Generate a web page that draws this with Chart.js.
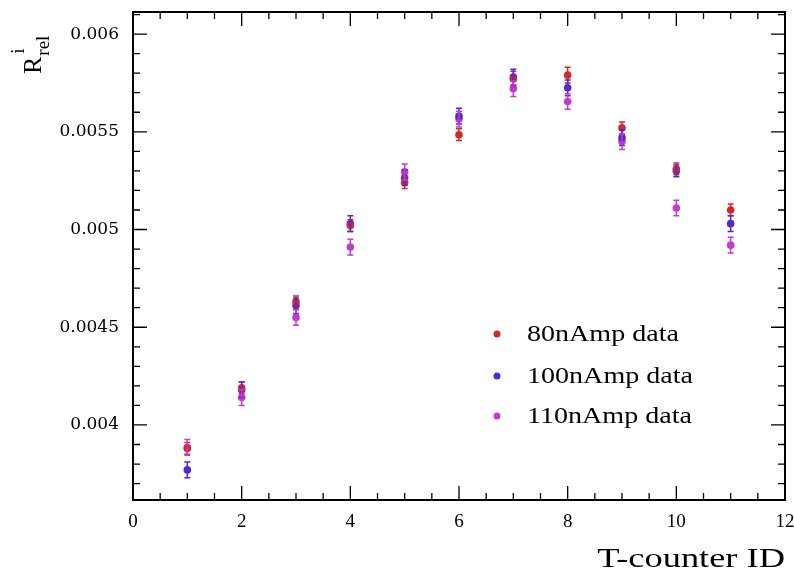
<!DOCTYPE html>
<html>
<head>
<meta charset="utf-8">
<script src="https://cdn.jsdelivr.net/npm/chart.js@4/dist/chart.umd.min.js"></script>
<style>
  html, body { margin: 0; padding: 0; background: #fff; }
  #wrap { width: 794px; height: 573px; }
</style>
</head>
<body>
<div id="wrap"><canvas id="c"></canvas></div>
<script>
// T-counter IDs and relative rates per beam current
const counterIds = [1, 2, 3, 4, 5, 6, 7, 8, 9, 10, 11];
const rel80  = [0.00388, 0.00419, 0.00463, 0.00502, 0.00524, 0.005485, 0.00577, 0.00579, 0.00552, 0.00531, 0.00510];
const rel100 = [0.00377, 0.00418, 0.00461, 0.00503, 0.005265, 0.00558, 0.00578, 0.005725, 0.00547, 0.00530, 0.00503];
const rel110 = [0.003885, 0.00414, 0.00455, 0.00491, 0.005295, 0.005565, 0.00572, 0.005655, 0.00545, 0.00511, 0.00492];
const err80  = [0.00003, 0.00003, 0.00003, 0.00003, 0.00003, 0.00003, 0.00004, 0.00004, 0.00003, 0.00003, 0.00003];
const err100 = [0.00004, 0.00004, 0.00004, 0.00004, 0.00004, 0.00004, 0.00004, 0.00004, 0.00004, 0.00003, 0.00004];
const err110 = [0.00004, 0.00004, 0.00004, 0.00004, 0.00004, 0.00004, 0.00004, 0.00004, 0.00004, 0.00004, 0.00004];

const seriesLabels = ['80nAmp data', '100nAmp data', '110nAmp data'];
const xTicks = [0, 2, 4, 6, 8, 10, 12];
const yTicks = [0.004, 0.0045, 0.005, 0.0055, 0.006];
const yTickLabels = ['0.004', '0.0045', '0.005', '0.0055', '0.006'];
const xTitle = 'T-counter ID';

const colors = ['#d02a2a', '#5628d0', '#c23ccf'];
const serif = 'Liberation Serif';

const toPts = vals => counterIds.map((x, i) => ({ x, y: vals[i] }));

const errorBars = {
  id: 'errorBars',
  afterDatasetsDraw(chart) {
    const { ctx, scales: { x, y } } = chart;
    ctx.save();
    chart.data.datasets.forEach(ds => {
      ctx.strokeStyle = ds.borderColor;
      ctx.lineWidth = 1.5;
      ds.data.forEach((p, i) => {
        const px = x.getPixelForValue(p.x);
        const lo = y.getPixelForValue(p.y - ds.errors[i]);
        const hi = y.getPixelForValue(p.y + ds.errors[i]);
        ctx.beginPath();
        ctx.moveTo(px, lo); ctx.lineTo(px, hi);
        ctx.moveTo(px - 3, lo); ctx.lineTo(px + 3, lo);
        ctx.moveTo(px - 3, hi); ctx.lineTo(px + 3, hi);
        ctx.stroke();
      });
    });
    ctx.restore();
  }
};

// stretched text, the reference's fonts are wide
function wideText(ctx, text, x, y, size, stretch, align) {
  ctx.save();
  ctx.font = `${size}px "${serif}"`;
  const w = ctx.measureText(text).width * stretch;
  const x0 = align === 'right' ? x - w : x;
  ctx.translate(x0, y);
  ctx.scale(stretch, 1);
  ctx.textAlign = 'left';
  ctx.fillText(text, 0, 0);
  ctx.restore();
}

const frame = {
  id: 'frame',
  afterDraw(chart) {
    const { ctx, chartArea: a, scales: { x, y } } = chart;
    ctx.save();
    ctx.strokeStyle = '#000';
    ctx.lineWidth = 2;
    ctx.strokeRect(a.left, a.top, a.right - a.left, a.bottom - a.top);
    ctx.lineWidth = 1.3;
    ctx.beginPath();
    for (let v = 0; v <= 12.001; v += 0.5) {
      const px = x.getPixelForValue(v);
      const len = Math.abs(v % 2) < 1e-6 ? 14 : 7;
      ctx.moveTo(px, a.bottom); ctx.lineTo(px, a.bottom - len);
      ctx.moveTo(px, a.top); ctx.lineTo(px, a.top + len);
    }
    for (let k = 36; k <= 61; k++) {
      const v = k * 0.0001;
      const py = y.getPixelForValue(v);
      if (py < a.top || py > a.bottom) continue;
      const len = k % 5 === 0 ? 14 : 7;
      ctx.moveTo(a.left, py); ctx.lineTo(a.left + len, py);
      ctx.moveTo(a.right, py); ctx.lineTo(a.right - len, py);
    }
    ctx.stroke();

    // y axis title R_rel^i
    ctx.fillStyle = '#000';
    ctx.save();
    ctx.translate(41, 74);
    ctx.rotate(-Math.PI / 2);
    ctx.textBaseline = 'alphabetic';
    ctx.font = `26px "${serif}"`;
    ctx.fillText('R', 0, 0);
    const w = ctx.measureText('R').width;
    ctx.font = `19px "${serif}"`;
    ctx.fillText('rel', w + 1, 8);
    ctx.fillText('i', w + 3, -17);
    ctx.restore();

    // x axis title
    ctx.textBaseline = 'alphabetic';
    wideText(ctx, xTitle, a.right, 567, 28, 1.3, 'right');

    // legend
    ctx.textBaseline = 'middle';
    const legY = [334, 376, 416];
    chart.data.datasets.forEach((ds, i) => {
      ctx.fillStyle = ds.backgroundColor;
      ctx.beginPath();
      ctx.arc(497, legY[i], 3.5, 0, Math.PI * 2);
      ctx.fill();
      ctx.fillStyle = '#000';
      wideText(ctx, ds.label, 527, legY[i] + 1, 23, 1.22, 'left');
    });
    ctx.restore();
  }
};

const mkSet = (i, vals, errs) => ({
  label: seriesLabels[i],
  data: toPts(vals),
  errors: errs,
  backgroundColor: colors[i],
  borderColor: colors[i],
  pointRadius: 3.8,
  pointBorderWidth: 0,
});

new Chart(document.getElementById('c'), {
  type: 'scatter',
  data: {
    datasets: [
      mkSet(0, rel80, err80),
      mkSet(1, rel100, err100),
      mkSet(2, rel110, err110),
    ],
  },
  options: {
    responsive: true,
    maintainAspectRatio: false,
    animation: false,
    layout: { padding: { top: 12, right: 9, left: 0, bottom: 0 } },
    plugins: { legend: { display: false }, tooltip: { enabled: false } },
    scales: {
      x: {
        type: 'linear',
        min: 0, max: 12,
        afterBuildTicks: s => { s.ticks = xTicks.map(v => ({ value: v })); },
        afterFit: s => { s.height = 73; s.paddingLeft = 0; s.paddingRight = 0; },
        grid: { display: false, drawTicks: false },
        border: { display: false },
        ticks: { color: '#000', padding: 11, font: { family: serif, size: 19 } },
      },
      y: {
        type: 'linear',
        min: 0.003616, max: 0.006113,
        afterBuildTicks: s => { s.ticks = yTicks.map(v => ({ value: v })); },
        afterFit: s => { s.width = 133; s.paddingTop = 0; s.paddingBottom = 0; },
        grid: { display: false, drawTicks: false },
        border: { display: false },
        ticks: {
          color: '#000', padding: 14, font: { family: 'DejaVu Serif', size: 17 },
          callback: v => yTickLabels[yTicks.findIndex(t => Math.abs(t - v) < 1e-9)],
        },
      },
    },
  },
  plugins: [errorBars, frame],
});
</script>
</body>
</html>
